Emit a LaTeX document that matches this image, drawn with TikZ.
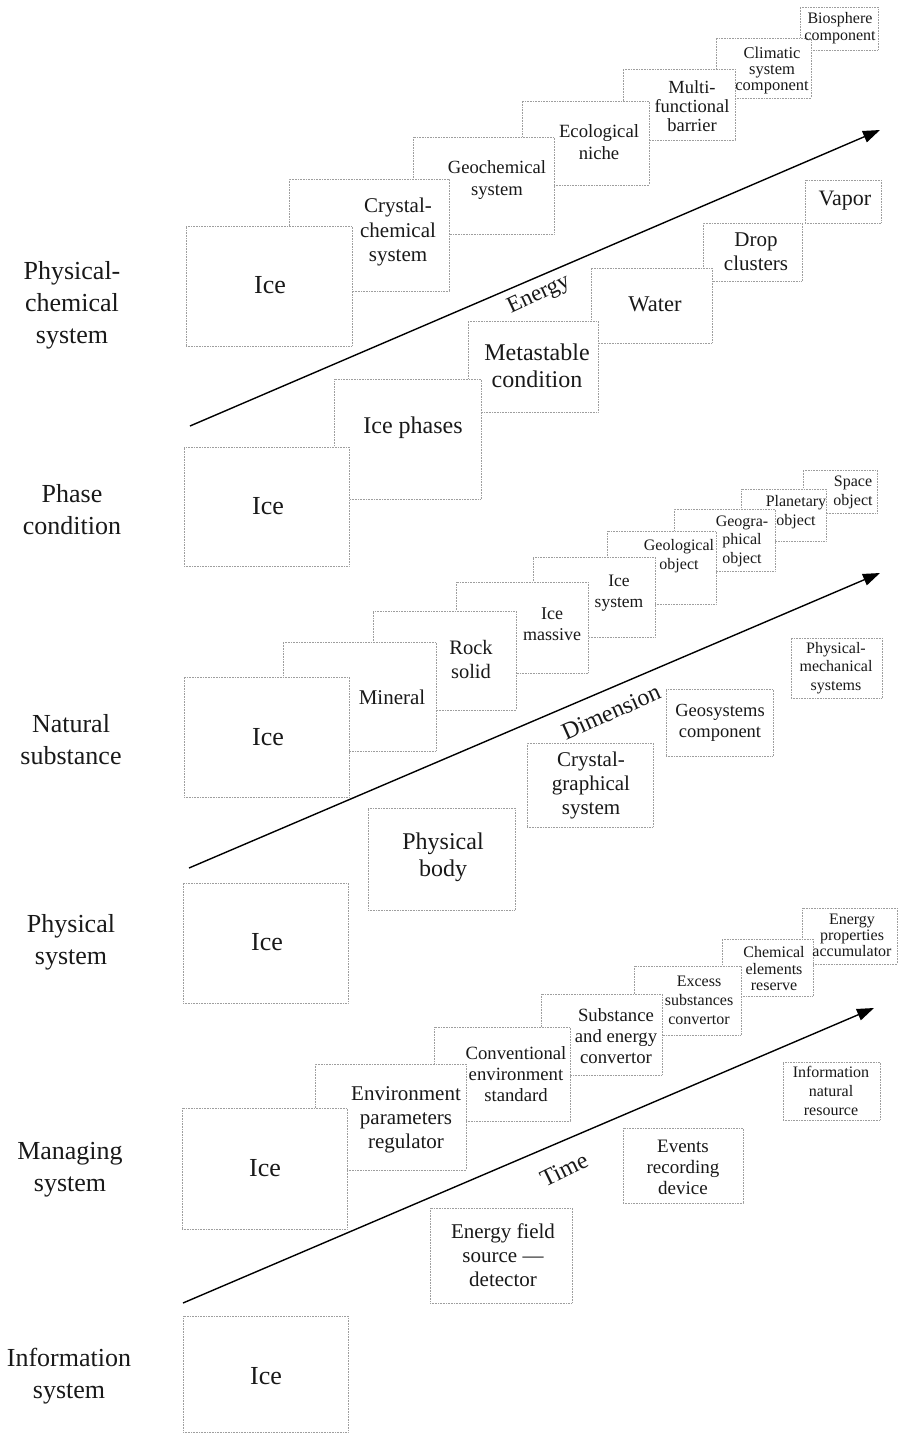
\documentclass[tikz,border=0pt]{standalone}
\usepackage{fontspec}
\setmainfont{Liberation Serif}
\usetikzlibrary{fit,arrows.meta}
\newcommand{\fsz}[2]{\fontsize{#1pt}{#2pt}\selectfont}
\newcommand{\bx}[5]{\node[boxst, fit={(#2,#3)(#4,#5)}] (#1) {};}
\begin{document}
\begin{tikzpicture}[x=1pt,y=-1pt,
  boxst/.style={draw=black!38, densely dotted, line width=0.6pt, fill=white, inner sep=0pt},
  txt/.style={align=center, inner sep=0pt, text=black!90},
  side/.style={txt, font=\fsz{26}{32}},
  axis/.style={line width=1.4pt, -{Triangle[length=17pt,width=12pt]}},
  lbl/.style={inner sep=0pt, text=black!90}]
\useasboundingbox (0,0) rectangle (899,1435);
\fill[white] (0,0) rectangle (899,1435);

% ---------- left labels
\node[side] (s1) at (72,305) {Physical-\\chemical\\system};
\node[side] (s2) at (72,510) {Phase\\condition};
\node[side] (s3) at (71,740) {Natural\\substance};
\node[side] (s4) at (71,942) {Physical\\system};
\node[side] (s5) at (70,1170) {Managing\\system};
\node[side] (s6) at (69,1376) {Information\\system};

% ---------- section 1, upper chain (drawn back to front)
\bx{a7}{800}{7}{878}{50}
\bx{a6}{716}{38}{811}{98}
\bx{a5}{623}{69}{735}{140}
\bx{a4}{522}{101}{649}{185}
\bx{a3}{413}{137}{554}{234}
\bx{a2}{289}{179}{449}{291}
\bx{a1}{186}{226}{352}{346}
% section 1, lower chain
\bx{b6}{805}{180}{881}{223}
\bx{b5}{703}{223}{802}{281}
\bx{b4}{591}{268}{712}{343}
\bx{b3}{468}{321}{598}{412}
\bx{b2}{334}{379}{481}{499}
\bx{b1}{184}{447}{349}{566}

% ---------- section 2, upper chain
\bx{c9}{803}{470}{877}{513}
\bx{c8}{741}{489}{826}{541}
\bx{c7}{674}{509}{775}{571}
\bx{c6}{607}{531}{716}{604}
\bx{c5}{533}{557}{655}{637}
\bx{c4}{456}{582}{588}{673}
\bx{c3}{373}{611}{516}{710}
\bx{c2}{283}{642}{436}{751}
\bx{c1}{184}{677}{349}{797}
% section 2, lower chain
\bx{d5}{791}{638}{882}{698}
\bx{d4}{666}{689}{773}{756}
\bx{d3}{527}{743}{653}{827}
\bx{d2}{368}{808}{515}{910}
\bx{d1}{183}{883}{348}{1003}

% ---------- section 3, upper chain
\bx{e7}{802}{908}{897}{964}
\bx{e6}{722}{939}{813}{996}
\bx{e5}{634}{966}{741}{1035}
\bx{e4}{541}{994}{662}{1075}
\bx{e3}{434}{1027}{570}{1121}
\bx{e2}{315}{1064}{466}{1170}
\bx{e1}{182}{1108}{347}{1229}
% section 3, lower chain
\bx{f4}{783}{1062}{880}{1120}
\bx{f3}{623}{1128}{743}{1203}
\bx{f2}{430}{1208}{572}{1303}
\bx{f1}{183}{1316}{348}{1432}

% ---------- texts, section 1
\node[txt, font=\fsz{26}{30}] (ta1) at (270,285) {Ice};
\node[txt, font=\fsz{21}{24.5}] (ta2) at (398,232) {Crystal-\\chemical\\system};
\node[txt, font=\fsz{18.6}{22}] (ta3) at (497,180) {Geochemical\\system};
\node[txt, font=\fsz{18.7}{22}] (ta4) at (599,142) {Ecological\\niche};
\node[txt, font=\fsz{18.5}{19}] (ta5) at (692,106) {Multi-\\functional\\barrier};
\node[txt, font=\fsz{16.5}{16}] (ta6) at (772,71) {Climatic\\system\\component};
\node[txt, font=\fsz{16}{17}] (ta7) at (840,28) {Biosphere\\component};

\node[txt, font=\fsz{26}{30}] (tb1) at (268,506) {Ice};
\node[txt, font=\fsz{24}{27}] (tb2) at (413,428) {Ice phases};
\node[txt, font=\fsz{24}{27}] (tb3) at (537,366) {Metastable\\condition};
\node[txt, font=\fsz{22.5}{25}] (tb4) at (655,304) {Water};
\node[txt, font=\fsz{21}{24}] (tb5) at (756,252) {Drop\\clusters};
\node[txt, font=\fsz{22}{25}] (tb6) at (845,201) {Vapor};

% ---------- texts, section 2
\node[txt, font=\fsz{26}{30}] (tc1) at (268,737) {Ice};
\node[txt, font=\fsz{21}{24}] (tc2) at (392,697) {Mineral};
\node[txt, font=\fsz{20.5}{24}] (tc3) at (471,659) {Rock\\solid};
\node[txt, font=\fsz{18}{21}] (tc4) at (552,624) {Ice\\massive};
\node[txt, font=\fsz{17.5}{21}] (tc5) at (619,593) {Ice\\system};
\node[txt, font=\fsz{16}{18.5}] (tc6) at (679,556) {Geological\\object};
\node[txt, font=\fsz{16}{18.5}] (tc7) at (742,541) {Geogra-\\phical\\object};
\node[txt, font=\fsz{16}{19}] (tc8) at (796,512) {Planetary\\object};
\node[txt, font=\fsz{16}{19}] (tc9) at (853,492) {Space\\object};

\node[txt, font=\fsz{26}{30}] (td1) at (267,942) {Ice};
\node[txt, font=\fsz{24}{27}] (td2) at (443,857) {Physical\\body};
\node[txt, font=\fsz{21}{24}] (td3) at (591,785) {Crystal-\\graphical\\system};
\node[txt, font=\fsz{18.5}{21}] (td4) at (720,723) {Geosystems\\component};
\node[txt, font=\fsz{16}{18.5}] (td5) at (836,668) {Physical-\\mechanical\\systems};

% ---------- texts, section 3
\node[txt, font=\fsz{26}{30}] (te1) at (265,1168) {Ice};
\node[txt, font=\fsz{21}{24}] (te2) at (406,1120) {Environment\\parameters\\regulator};
\node[txt, font=\fsz{18.7}{21}] (te3) at (516,1074) {Conventional\\environment\\standard};
\node[txt, font=\fsz{18.7}{21}] (te4) at (616,1036) {Substance\\and energy\\convertor};
\node[txt, font=\fsz{16}{19}] (te5) at (699,1000) {Excess\\substances\\convertor};
\node[txt, font=\fsz{16}{16.5}] (te6) at (774,969) {Chemical\\elements\\reserve};
\node[txt, font=\fsz{16}{16}] (te7) at (852,935) {Energy\\properties\\accumulator};

\node[txt, font=\fsz{26}{30}] (tf1) at (266,1376) {Ice};
\node[txt, font=\fsz{21}{24}] (tf2) at (503,1255) {Energy field\\source ---\\detector};
\node[txt, font=\fsz{19}{21}] (tf3) at (683,1167) {Events\\recording\\device};
\node[txt, font=\fsz{16}{19}] (tf4) at (831,1091) {Information\\natural\\resource};

% ---------- axes
\coordinate (p0) at (190,426);  \coordinate (p1) at (880,130);
\coordinate (q0) at (189,868);  \coordinate (q1) at (880,573);
\coordinate (r0) at (183,1303); \coordinate (r1) at (874,1008);
\draw[axis] (p0) -- (p1);
\draw[axis] (q0) -- (q1);
\draw[axis] (r0) -- (r1);
\node[lbl, font=\fsz{23}{26}, rotate=25] (lp) at (539,295) {Energy};
\node[lbl, font=\fsz{24}{27}, rotate=24] (lq) at (611,712) {Dimension};
\node[lbl, font=\fsz{24}{27}, rotate=26] (lr) at (564,1170) {Time};
\end{tikzpicture}
\end{document}
